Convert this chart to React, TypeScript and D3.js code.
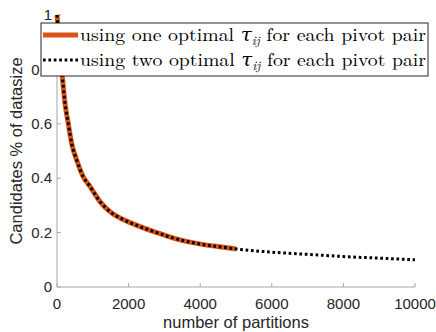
import * as d3 from "d3";

const W = 436;
const H = 332;
const MARGIN = { top: 15, right: 21, bottom: 45, left: 57 };

// partitions -> candidates fraction, one optimal tau per pair (runs to 5000)
const onePartitions = [1, 60, 140, 224, 316, 410, 550, 735, 920, 1200, 1480, 1850, 2320, 2785, 3250, 3715, 4180, 4600, 5000];
const oneValues = [1.0, 0.9, 0.786, 0.675, 0.6, 0.528, 0.467, 0.405, 0.37, 0.314, 0.277, 0.248, 0.222, 0.2, 0.18, 0.165, 0.154, 0.147, 0.14];

// two optimal tau per pair (same curve up to 5000, continues to 10000)
const twoPartitions = [...onePartitions, 6000, 7000, 8000, 9000, 10000];
const twoValues = [...oneValues, 0.128, 0.12, 0.112, 0.106, 0.1];

const xTicks = [0, 2000, 4000, 6000, 8000, 10000];
const yTicks = [0, 0.2, 0.4, 0.6, 0.8, 1];

const AXIS = "#a6a6a6";
const LABEL = "#262626";
const SANS = "Arial, 'Liberation Sans', Helvetica, sans-serif";
const SERIF = "'Latin Modern Roman', 'DejaVu Serif', 'Liberation Serif', serif";

export default function App() {
  const innerW = W - MARGIN.left - MARGIN.right;
  const innerH = H - MARGIN.top - MARGIN.bottom;

  const x = d3.scaleLinear().domain([0, 10000]).range([0, innerW]);
  const y = d3.scaleLinear().domain([0, 1]).range([innerH, 0]);

  const line = d3
    .line<[number, number]>()
    .x((d) => x(d[0]))
    .y((d) => y(d[1]))
    .curve(d3.curveMonotoneX);

  const oneData = onePartitions.map((p, i) => [p, oneValues[i]] as [number, number]);
  const twoData = twoPartitions.map((p, i) => [p, twoValues[i]] as [number, number]);

  // legend box in plot coords
  const legX = 41 - MARGIN.left;
  const legY = 23 - MARGIN.top;
  const legW = 387;
  const legH = 53;

  const rows = [
    { word: "one", color: "#D95319", width: 5, dash: undefined as string | undefined },
    { word: "two", color: "#000000", width: 3, dash: "2.7 2.7" },
  ];

  return (
    <div style={{ position: "fixed", left: 0, top: 0 }}>
      <svg width={W} height={H} style={{ display: "block", background: "#fff" }}>
        <g transform={`translate(${MARGIN.left},${MARGIN.top})`}>
          {/* axes */}
          <line x1={0} x2={0} y1={0} y2={innerH} stroke={AXIS} strokeWidth={1} />
          <line x1={0} x2={innerW} y1={innerH} y2={innerH} stroke={AXIS} strokeWidth={1} />

          {yTicks.map((t) => (
            <g key={"y" + t}>
              <line x1={0} x2={4} y1={y(t)} y2={y(t)} stroke={AXIS} />
              <text
                x={-5}
                y={y(t)}
                dy="0.35em"
                textAnchor="end"
                fontFamily={SANS}
                fontSize={15}
                fill={LABEL}
              >
                {t === 0 || t === 1 ? d3.format("d")(t) : d3.format(".1f")(t)}
              </text>
            </g>
          ))}

          {xTicks.map((t) => (
            <g key={"x" + t}>
              <line x1={x(t)} x2={x(t)} y1={innerH} y2={innerH - 4} stroke={AXIS} />
              <text
                x={x(t)}
                y={innerH + 22}
                textAnchor="middle"
                fontFamily={SANS}
                fontSize={15}
                fill={LABEL}
              >
                {t}
              </text>
            </g>
          ))}

          {/* series */}
          <path d={line(oneData) ?? ""} fill="none" stroke="#D95319" strokeWidth={5} strokeLinejoin="round" />
          <path d={line(twoData) ?? ""} fill="none" stroke="#000" strokeWidth={3} strokeDasharray="2.7 2.7" />

          {/* axis labels */}
          <text
            x={innerW / 2}
            y={innerH + 41}
            textAnchor="middle"
            fontFamily={SANS}
            fontSize={16.5}
            fill={LABEL}
          >
            number of partitions
          </text>
          <text
            transform={`translate(${16 - MARGIN.left},${innerH / 2}) rotate(-90)`}
            textAnchor="middle"
            dy="0.35em"
            fontFamily={SANS}
            fontSize={16.5}
            fill={LABEL}
          >
            Candidates % of datasize
          </text>

          {/* legend */}
          <rect x={legX} y={legY} width={legW} height={legH} fill="#fff" stroke="#262626" strokeWidth={1} />
          {rows.map((r, i) => {
            const cy = legY + 12 + i * 25;
            return (
              <g key={r.word}>
                <line
                  x1={legX + 2}
                  x2={legX + 37}
                  y1={cy}
                  y2={cy}
                  stroke={r.color}
                  strokeWidth={r.width}
                  strokeDasharray={r.dash}
                />
                <text
                  x={legX + 39}
                  y={cy}
                  dy="0.32em"
                  fontFamily={SERIF}
                  fontSize={18}
                  fill="#000"
                  textLength={346}
                  lengthAdjust="spacingAndGlyphs"
                >
                  {`using ${r.word} optimal `}
                  <tspan fontStyle="italic">τ</tspan>
                  <tspan fontStyle="italic" fontSize={12} dy={4}>ij</tspan>
                  <tspan dy={-4}>{" for each pivot pair"}</tspan>
                </text>
              </g>
            );
          })}
        </g>
      </svg>
    </div>
  );
}
